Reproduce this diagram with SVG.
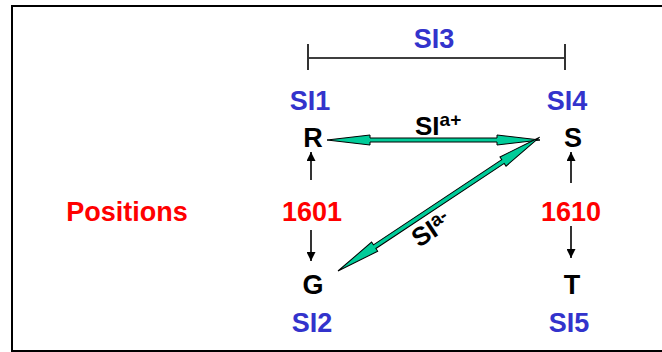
<svg xmlns="http://www.w3.org/2000/svg" width="662" height="352" viewBox="0 0 662 352">
<style>
text{font-family:"Liberation Sans",Arial,sans-serif;font-size:27px;font-weight:bold;text-anchor:middle}
.b{fill:#3333CC}.r{fill:#FF0000}.k{fill:#000}
.ga{fill:#00CC99;stroke:#000;stroke-width:1;stroke-linejoin:miter}
.ln{stroke:#000;stroke-width:1.6;fill:none}
</style>
<defs>
<marker id="ah" viewBox="0 0 10 10" refX="10" refY="5" markerWidth="9" markerHeight="9" markerUnits="userSpaceOnUse" orient="auto"><path d="M0,0 L10,5 L0,10 z" fill="#000"/></marker>
</defs>
<rect width="662" height="352" fill="#fff"/>
<path d="M662 6 H12 V351 H662" fill="none" stroke="#000" stroke-width="2"/>
<g id="bracket">
<path class="ln" d="M309 58 H564 M308 44 V70 M565 44 V70"/>
<text class="b" x="434" y="48">SI3</text>
</g>
<g id="positions"><text class="r" x="127" y="221">Positions</text></g>
<g id="R"><text class="b" x="310" y="110">SI1</text><text class="k" x="313" y="147">R</text></g>
<g id="S"><text class="b" x="567" y="110">SI4</text><text class="k" x="573" y="147">S</text></g>
<g id="p1601"><text class="r" x="312" y="221">1601</text></g>
<g id="p1610"><text class="r" x="571" y="221">1610</text></g>
<g id="G"><text class="k" x="313" y="294">G</text><text class="b" x="312" y="332">SI2</text></g>
<g id="T"><text class="k" x="572" y="294">T</text><text class="b" x="569" y="332">SI5</text></g>
<g id="connectors">
<path class="ln" d="M311 180 V152" marker-end="url(#ah)"/>
<path class="ln" d="M311 230 V261" marker-end="url(#ah)"/>
<path class="ln" d="M571 183 V152" marker-end="url(#ah)"/>
<path class="ln" d="M571 226 V258" marker-end="url(#ah)"/>
<polygon class="ga" transform="translate(327,140)" points="0,0 43,-5 43,-2 170,-2 170,-5 213,0 170,5 170,2 43,2 43,5"/>
<polygon class="ga" transform="translate(338,271) rotate(-33.56)" points="0,0 44,-5.5 44,-2.2 198,-2.2 198,-5.5 242,0 198,5.5 198,2.2 44,2.2 44,5.5"/>
<text class="k" x="415" y="135" style="text-anchor:start;font-size:26px">SI<tspan font-size="19" dy="-9">a+</tspan></text>
<text class="k" transform="translate(419,248) rotate(-33.56)" style="text-anchor:start;font-size:26px">SI<tspan font-size="19" dy="-8">a-</tspan></text>
</g>
</svg>
